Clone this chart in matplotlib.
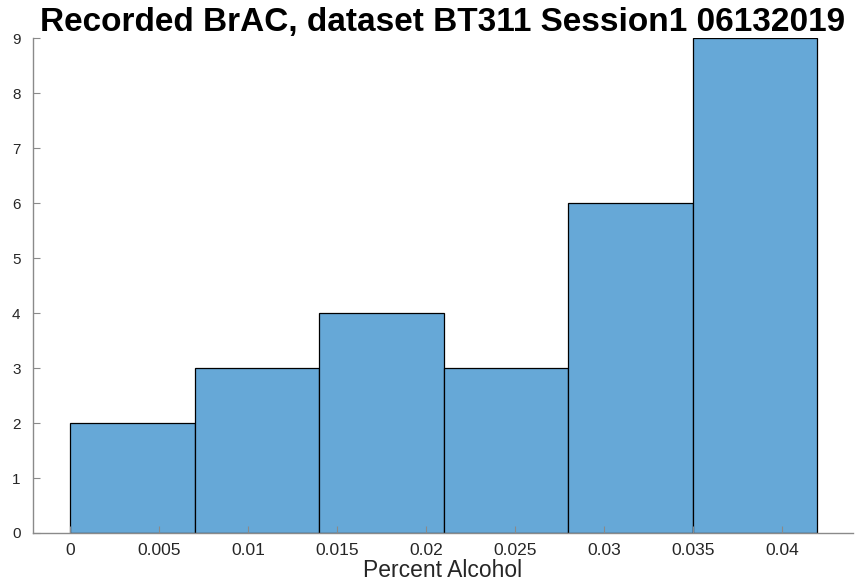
import matplotlib.pyplot as plt
import numpy as np

plt.rcParams['font.family'] = ['Liberation Sans', 'DejaVu Sans']

# histogram bin edges and counts
bin_edges = [0, 0.007, 0.014, 0.021, 0.028, 0.035, 0.042]
counts = [2, 3, 4, 3, 6, 9]
x_ticks = [0, 0.005, 0.01, 0.015, 0.02, 0.025, 0.03, 0.035, 0.04]
x_tick_labels = ['0', '0.005', '0.01', '0.015', '0.02', '0.025', '0.03', '0.035', '0.04']
y_ticks = list(range(10))

fig = plt.figure(figsize=(8.6, 5.87), dpi=100)
ax = fig.add_axes([0.0384, 0.092, 0.9535, 0.843])

widths = np.diff(bin_edges)
ax.bar(bin_edges[:-1], counts, width=widths, align='edge',
       color=(0.4, 0.659, 0.843), edgecolor='black', linewidth=0.9)

ax.set_xlim(-0.00208, 0.044)
ax.set_ylim(0, 9)
ax.set_xticks(x_ticks)
ax.set_xticklabels(x_tick_labels)
ax.set_yticks(y_ticks)

ax.spines['top'].set_visible(False)
ax.spines['right'].set_visible(False)
for s in ['left', 'bottom']:
    ax.spines[s].set_color('#8a8a8a')
    ax.spines[s].set_linewidth(1.0)
ax.tick_params(direction='in', length=5, color='#8a8a8a', labelsize=12.5,
               labelcolor='#262626')
ax.tick_params(axis='x', pad=7)
ax.tick_params(axis='y', pad=9, labelsize=11)

ax.set_xlabel('Percent Alcohol', fontsize=16.5, color='#262626', labelpad=1)
ax.set_title('Recorded BrAC, dataset BT311 Session1 06132019',
             fontsize=24, fontweight='bold', pad=5)

fig.savefig('out.png', dpi=100)
